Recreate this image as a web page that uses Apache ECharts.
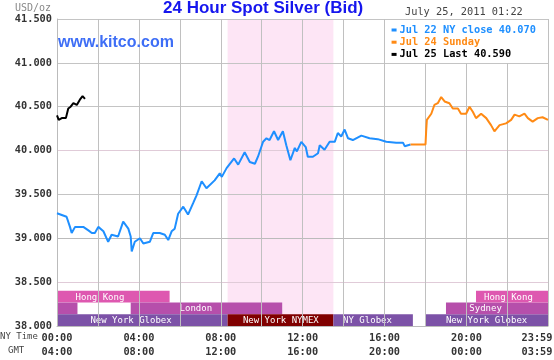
<!DOCTYPE html>
<html><head><meta charset="utf-8">
<script src="https://cdn.jsdelivr.net/npm/echarts@6/dist/echarts.min.js"></script>
<style>html,body{margin:0;padding:0;background:#fff}#main{width:554px;height:360px}</style>
</head><body><div id="main"></div>
<script>
// ---- data ----
const jul22Minutes = [0,14,28,38,43,53,77,92,102,111,121,136,150,160,179,194,209,216,219,228,243,253,272,282,301,316,326,336,345,355,370,384,399,409,424,438,462,477,483,497,519,531,550,565,580,589,604,614,623,636,648,662,672,684,697,703,716,729,735,750,765,770,784,799,814,823,833,843,853,867,892,916,940,965,994,1014,1019,1036];
const jul22Prices  = [39.285,39.266,39.246,39.13,39.06,39.13,39.13,39.09,39.06,39.06,39.13,39.08,38.96,39.04,39.02,39.19,39.11,39.02,38.85,38.96,39.0,38.94,38.96,39.06,39.06,39.04,38.98,39.08,39.11,39.28,39.36,39.27,39.40,39.49,39.65,39.57,39.66,39.74,39.70,39.80,39.91,39.84,39.98,39.87,39.85,39.93,40.10,40.14,40.12,40.22,40.12,40.22,40.06,39.89,40.03,39.99,40.10,40.04,39.93,39.93,39.97,40.06,40.01,40.10,40.10,40.20,40.16,40.24,40.14,40.12,40.17,40.14,40.13,40.10,40.09,40.09,40.05,40.07];
const jul24Minutes = [1036,1080,1082,1084,1097,1106,1116,1126,1136,1150,1160,1175,1184,1199,1209,1219,1228,1243,1258,1272,1282,1297,1316,1331,1341,1355,1370,1380,1394,1409,1423,1439];
const jul24Prices  = [40.07,40.07,40.23,40.35,40.42,40.52,40.54,40.61,40.56,40.54,40.48,40.48,40.42,40.42,40.50,40.44,40.37,40.42,40.37,40.29,40.22,40.29,40.31,40.35,40.41,40.39,40.42,40.37,40.33,40.37,40.38,40.35];
const jul25Minutes = [0,5,14,26,33,40,48,58,67,75,82];
const jul25Prices  = [40.40,40.35,40.37,40.37,40.48,40.50,40.54,40.52,40.58,40.62,40.59];

const legendTexts = ['Jul 22 NY close 40.070','Jul 24 Sunday','Jul 25 Last 40.590'];

const xTickMinutes = [0,240,480,720,960,1200,1439];
const nyTimeLabels = ['00:00','04:00','08:00','12:00','16:00','20:00','23:59'];
const gmtLabels    = ['04:00','08:00','12:00','16:00','20:00','00:00','03:59'];

const nymexStart = 500, nymexEnd = 810;

const sessionNames   = ['Hong Kong','','London','New York Globex','New York NYMEX','NY Globex','New York Globex','Sydney','Hong Kong'];
const sessionStart   = [0,0,216,0,500,810,1080,1140,1228];
const sessionEnd     = [330,60,660,500,810,1043,1439,1439,1439];
const sessionRow     = [2,1,1,0,0,0,0,1,2];
const sessionLabelAt = [126,-1,407,217,656,910,1259,1256,1323];

// ---- styles ----
const C_BLUE = '#1e8fff', C_ORANGE = '#ff8a14', C_BLACK = '#000000';
const rowColors = ['#7c52a7','#b64fab','#de58b0'];
const nymexColor = '#800000';
const MONO = '"DejaVu Sans Mono", monospace';
const ROW_H = 0.1335;

const zip = (a,b) => a.map((v,i)=>[v,b[i]]);

const chart = echarts.init(document.getElementById('main'), null, {renderer:'canvas'});

const hLineColors = ['#bbbbbb','#e0cbd8','#bbbbbb','#c4c4c4','#e0cbd8','#c4c4c4','#c4c4c4','#c4c4c4'];

const option = {
  animation:false,
  backgroundColor:'#ffffff',
  title:{
    text:'24 Hour Spot Silver (Bid)', left:163, top:0, padding:0,
    textStyle:{color:'#1616ee', fontSize:17, fontWeight:'bold', fontFamily:'"Liberation Sans", Arial, sans-serif'}
  },
  grid:{left:57, right:6, top:19, bottom:34, containLabel:false, outerBoundsMode:'none'},
  xAxis:{
    type:'value', min:0, max:1439, interval:120, z:3,
    axisLine:{show:true, lineStyle:{color:'#bbbbbb'}},
    axisTick:{show:false},
    splitLine:{show:true, lineStyle:{color:'#c0c0c0', width:1}},
    axisLabel:{
      show:true, showMaxLabel:true, showMinLabel:true, margin:5,
      fontFamily:MONO, fontSize:10.3, fontWeight:'bold', color:'#333', lineHeight:14,
      formatter:function(v){
        const i = xTickMinutes.indexOf(v);
        if (i<0) return '';
        if (i===xTickMinutes.length-1) return '{r|'+nyTimeLabels[i]+'}\n{r|'+gmtLabels[i]+'}';
        return nyTimeLabels[i]+'\n'+gmtLabels[i];
      },
      rich:{r:{fontFamily:MONO, fontSize:10.3, fontWeight:'bold', color:'#333', lineHeight:14, padding:[0,22,0,0]}}
    }
  },
  yAxis:{
    type:'value', min:38, max:41.5, interval:0.5, z:3,
    axisLine:{show:true, lineStyle:{color:'#bbbbbb'}},
    axisTick:{show:false},
    splitLine:{show:true, lineStyle:{color:hLineColors, width:1}},
    axisLabel:{margin:5, fontFamily:MONO, fontSize:10.3, fontWeight:'bold', color:'#333',
      formatter:v=>v.toFixed(3)}
  },
  series:[
    {
      type:'custom', z:2, silent:true,
      data: sessionNames.map((n,i)=>[sessionStart[i], sessionEnd[i], sessionRow[i], sessionLabelAt[i]]),
      renderItem:function(params, api){
        const i = params.dataIndex;
        const s = api.value(0), e = api.value(1), row = api.value(2), la = api.value(3);
        const p0 = api.coord([s, 38 + row*ROW_H]);
        const p1 = api.coord([e, 38 + (row+1)*ROW_H]);
        const color = sessionNames[i]==='New York NYMEX' ? nymexColor : rowColors[row];
        const children = [{
          type:'rect',
          shape:{x:p0[0], y:p1[1], width:p1[0]-p0[0], height:p0[1]-p1[1]},
          style:{fill:color}
        }];
        if (sessionNames[i]) {
          const lx = api.coord([la, 38])[0];
          children.push({
            type:'text',
            style:{text:sessionNames[i], x:lx, y:(p0[1]+p1[1])/2+0.5, fill:'#ffffff',
              font:'9px '+MONO, align:'center', verticalAlign:'middle'}
          });
        }
        return {type:'group', children};
      },
      markArea:{
        silent:true, z:1,
        itemStyle:{color:'#fde5f5'},
        data:[[{xAxis:nymexStart},{xAxis:nymexEnd}]]
      }
    },
    {type:'line', z:4, data:zip(jul22Minutes, jul22Prices), showSymbol:false, silent:true,
      lineStyle:{color:C_BLUE, width:2}},
    {type:'line', z:4, data:zip(jul24Minutes, jul24Prices), showSymbol:false, silent:true,
      lineStyle:{color:C_ORANGE, width:2}},
    {type:'line', z:4, data:zip(jul25Minutes, jul25Prices), showSymbol:false, silent:true,
      lineStyle:{color:C_BLACK, width:2}}
  ]
};
chart.setOption(option);

// legend box placed by the axes
const bx0 = chart.convertToPixel({xAxisIndex:0}, 960);
const bx1 = chart.convertToPixel({xAxisIndex:0}, 1439);
const by0 = chart.convertToPixel({yAxisIndex:0}, 41.5);
const by1 = chart.convertToPixel({yAxisIndex:0}, 41.0);
const legendColors = [C_BLUE, C_ORANGE, C_BLACK];
const gfx = [
  {type:'rect', z:10, shape:{x:Math.round(bx0)+1, y:Math.round(by0)+1, width:Math.round(bx1)-Math.round(bx0)-1, height:Math.round(by1)-Math.round(by0)-1}, style:{fill:'#ffffff'}},
  {type:'text', z:10, left:15, top:3, style:{text:'USD/oz', font:'10px '+MONO, fill:'#888'}},
  {type:'text', z:10, left:405, top:7, style:{text:'July 25, 2011 01:22', font:'10.3px '+MONO, fill:'#444'}},
  {type:'text', z:10, left:58, top:35, style:{text:'www.kitco.com', font:'bold 16px "Liberation Sans", Arial, sans-serif', fill:'#3e6ef6'}},
  {type:'text', z:10, left:0, top:332, style:{text:'NY Time', font:'9px '+MONO, fill:'#444'}},
  {type:'text', z:10, left:8, top:346, style:{text:'GMT', font:'9px '+MONO, fill:'#444'}}
];
legendTexts.forEach((t,i)=>{
  const yc = 30 + i*12.2;
  gfx.push({type:'rect', z:11, shape:{x:bx0+7, y:yc-1.5, width:5, height:3}, style:{fill:legendColors[i]}});
  gfx.push({type:'text', z:11, style:{text:t, x:bx0+15, y:yc, font:'bold 10.3px '+MONO, fill:legendColors[i], verticalAlign:'middle'}});
});
chart.setOption({graphic:gfx});
</script>
</body></html>
